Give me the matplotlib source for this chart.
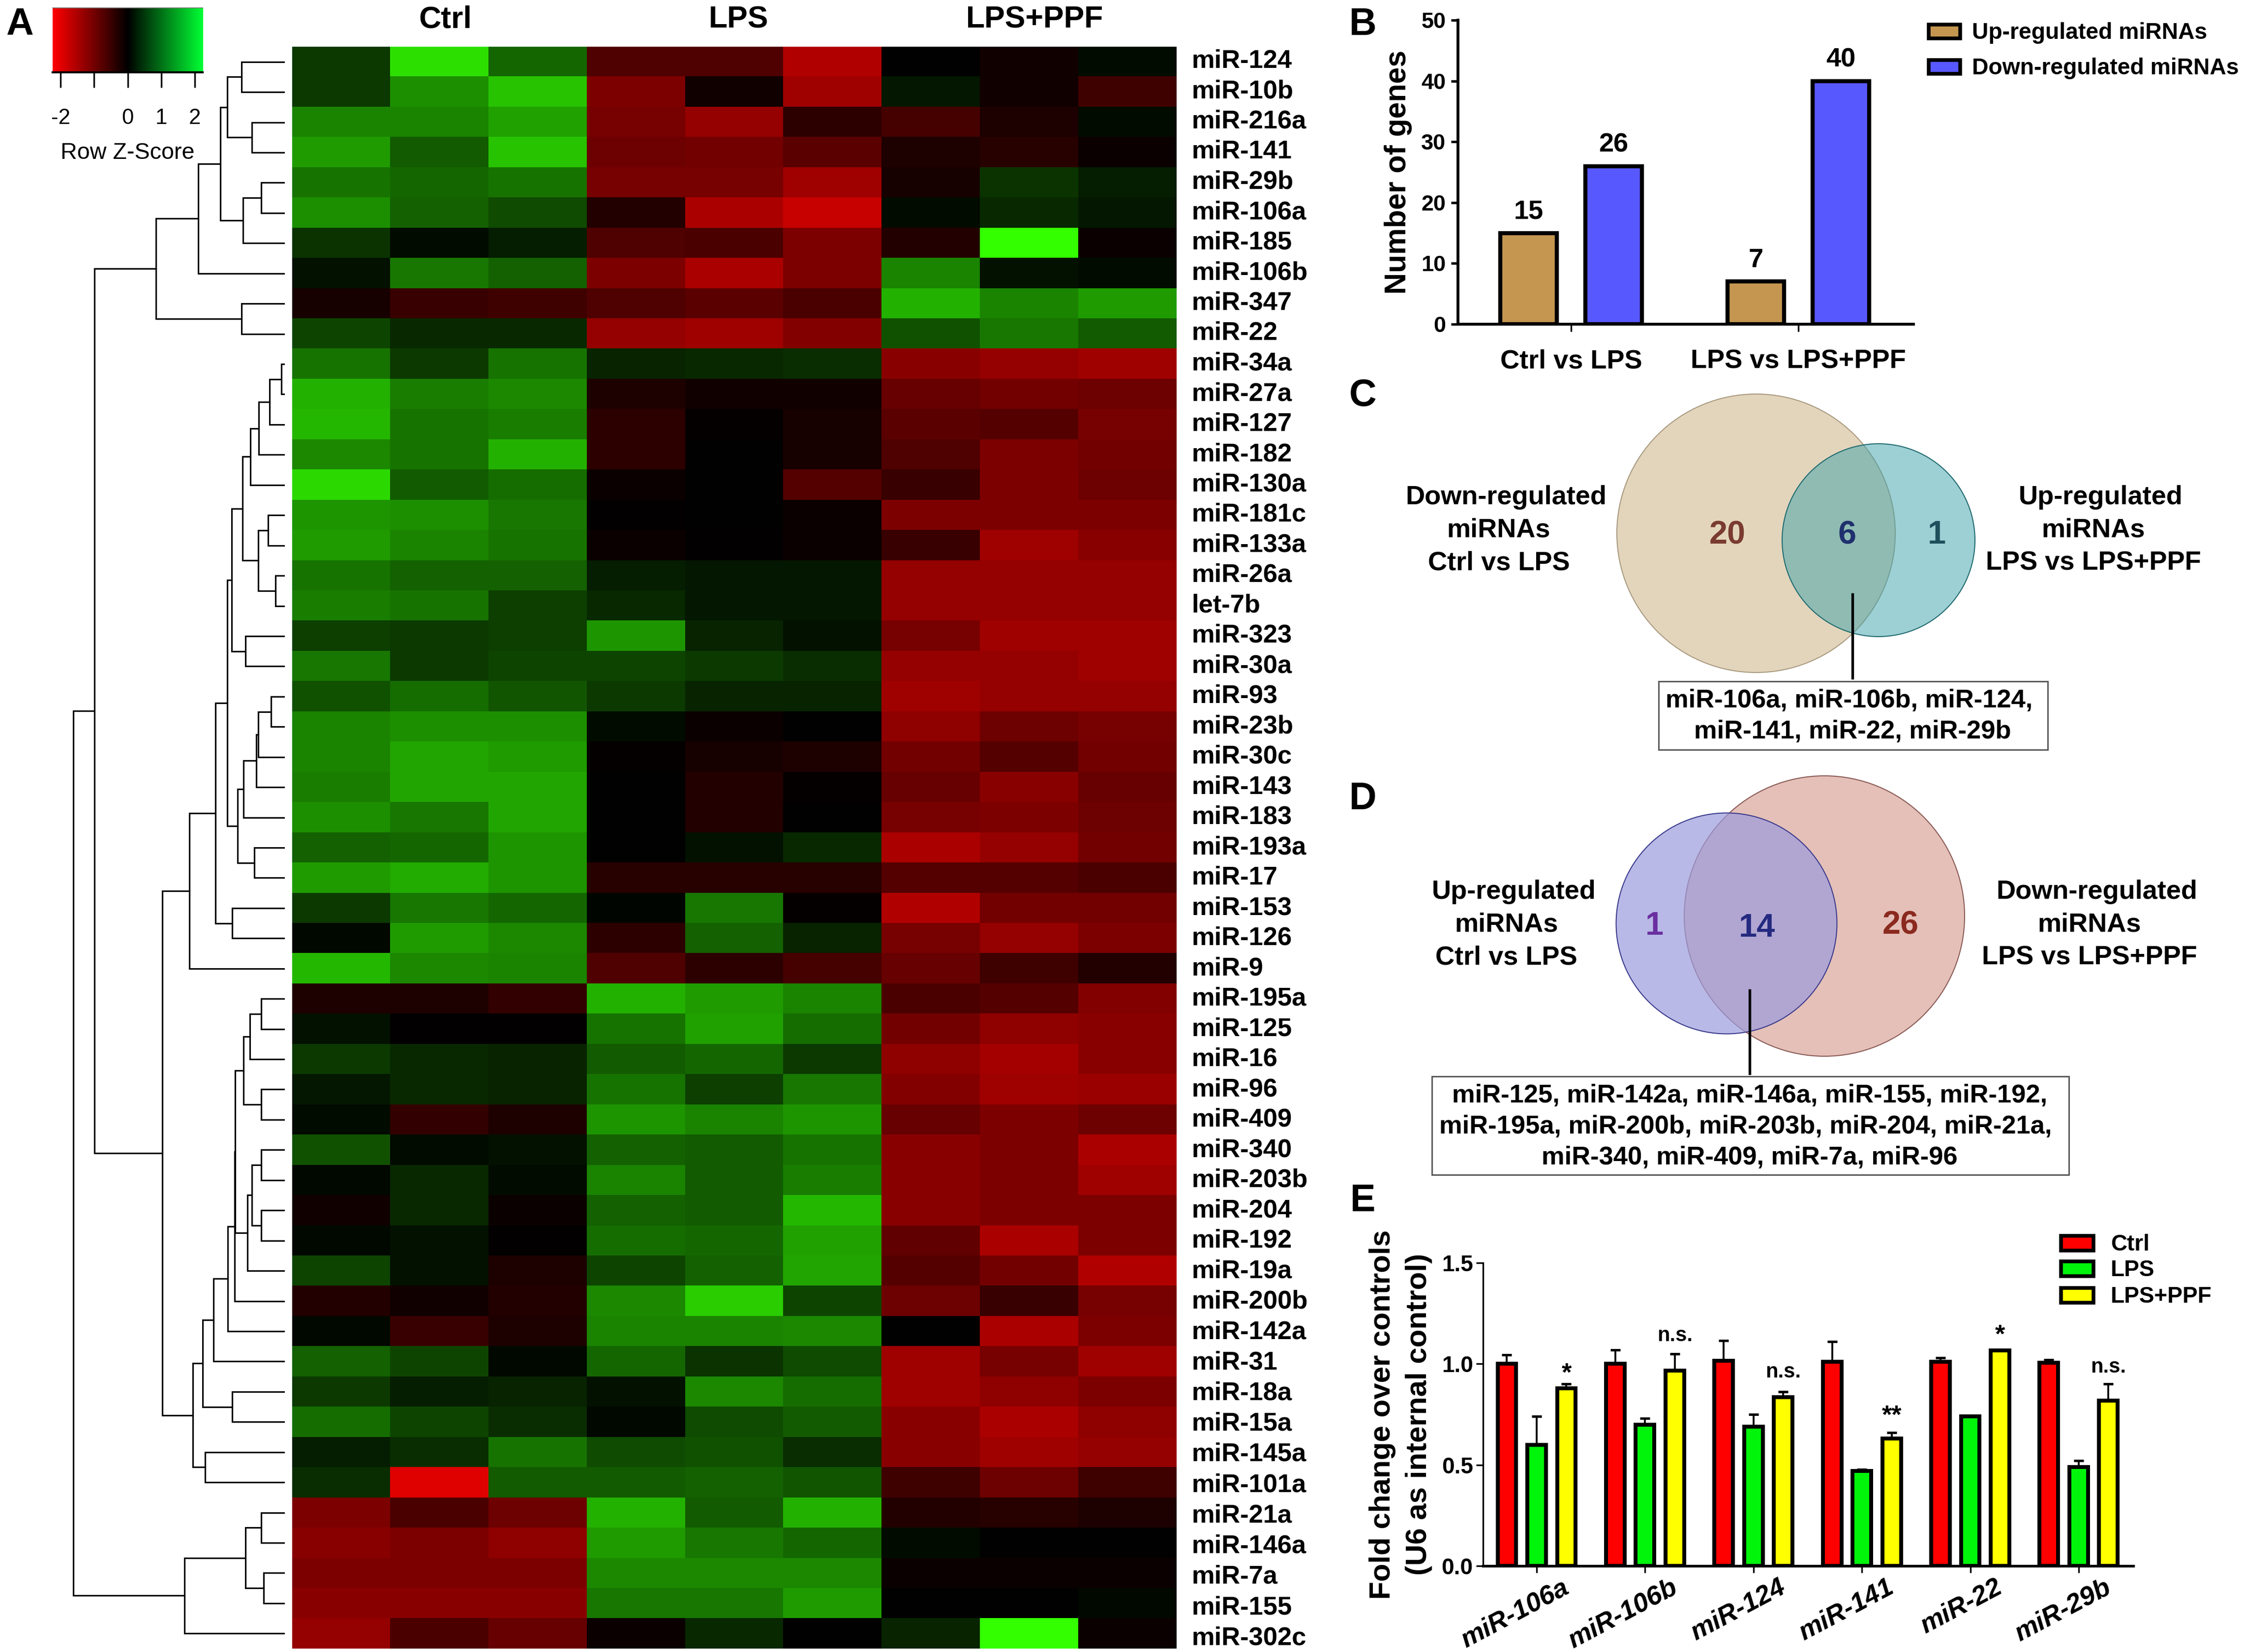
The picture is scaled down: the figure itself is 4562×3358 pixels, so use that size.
import numpy as np
import matplotlib
matplotlib.use("Agg")
import matplotlib.pyplot as plt
from matplotlib.colors import LinearSegmentedColormap
from matplotlib.patches import Circle, Rectangle
from matplotlib.transforms import ScaledTranslation

plt.rcParams["font.family"] = ["Liberation Sans", "DejaVu Sans"]
plt.rcParams["font.weight"] = "bold"

W, H = 4562, 3358
DPI = 300

# ---- panel A data ----
mirnas = ["miR-124", "miR-10b", "miR-216a", "miR-141", "miR-29b", "miR-106a", "miR-185", "miR-106b",
          "miR-347", "miR-22", "miR-34a", "miR-27a", "miR-127", "miR-182", "miR-130a", "miR-181c",
          "miR-133a", "miR-26a", "let-7b", "miR-323", "miR-30a", "miR-93", "miR-23b", "miR-30c",
          "miR-143", "miR-183", "miR-193a", "miR-17", "miR-153", "miR-126", "miR-9", "miR-195a",
          "miR-125", "miR-16", "miR-96", "miR-409", "miR-340", "miR-203b", "miR-204", "miR-192",
          "miR-19a", "miR-200b", "miR-142a", "miR-31", "miR-18a", "miR-15a", "miR-145a", "miR-101a",
          "miR-21a", "miR-146a", "miR-7a", "miR-155", "miR-302c"]
heat_groups = ["Ctrl", "LPS", "LPS+PPF"]

# row z-scores, three replicates per group
z_ctrl = [[0.5, 1.95, 0.9], [0.5, 1.25, 1.7], [1.15, 1.15, 1.4], [1.35, 0.8, 1.7], [1.0, 0.9, 1.0],
          [1.25, 0.85, 0.65], [0.45, 0.1, 0.25], [0.15, 1.05, 0.85], [-0.2, -0.5, -0.55], [0.6, 0.35, 0.35],
          [1.0, 0.5, 1.0], [1.55, 1.1, 1.2], [1.6, 1.0, 1.1], [1.2, 1.0, 1.55], [1.9, 0.8, 0.95],
          [1.3, 1.25, 1.05], [1.35, 1.15, 1.0], [1.0, 0.85, 0.85], [1.1, 1.0, 0.55], [0.55, 0.5, 0.55],
          [1.05, 0.5, 0.6], [0.7, 0.95, 0.75], [1.15, 1.25, 1.25], [1.15, 1.45, 1.35], [1.1, 1.45, 1.45],
          [1.25, 1.05, 1.45], [0.85, 0.9, 1.3], [1.35, 1.5, 1.3], [0.5, 1.05, 0.9], [0.08, 1.35, 1.2],
          [1.6, 1.2, 1.15], [-0.25, -0.25, -0.45], [0.15, -0.03, -0.03], [0.5, 0.35, 0.3], [0.2, 0.35, 0.3],
          [0.1, -0.45, -0.25], [0.7, 0.1, 0.15], [0.08, 0.35, 0.1], [-0.15, 0.35, -0.1], [0.08, 0.15, -0.03],
          [0.6, 0.15, -0.25], [-0.3, -0.15, -0.3], [0.08, -0.5, -0.25], [0.85, 0.6, 0.08], [0.5, 0.25, 0.3],
          [0.95, 0.6, 0.4], [0.25, 0.4, 1.0], [0.4, -1.95, 0.8], [-1.1, -0.65, -0.95], [-1.2, -1.1, -1.25],
          [-1.1, -1.1, -1.1], [-1.2, -1.2, -1.2], [-1.3, -0.65, -0.9]]
z_lps = [[-0.7, -0.7, -1.55], [-1.1, -0.15, -1.4], [-1.05, -1.3, -0.4], [-0.95, -1.0, -0.8], [-1.05, -1.05, -1.4],
         [-0.3, -1.5, -1.75], [-0.7, -0.65, -1.1], [-1.1, -1.5, -1.1], [-0.7, -0.8, -0.65], [-1.3, -1.4, -1.15],
         [0.3, 0.35, 0.4], [-0.25, -0.15, -0.15], [-0.4, -0.05, -0.2], [-0.4, 0.0, -0.2], [-0.1, 0.0, -0.75],
         [-0.03, 0.0, -0.1], [-0.1, -0.03, -0.1], [0.25, 0.2, 0.2], [0.35, 0.2, 0.2], [1.3, 0.3, 0.15],
         [0.6, 0.5, 0.4], [0.5, 0.3, 0.3], [0.1, -0.1, 0.0], [-0.05, -0.2, -0.25], [0.0, -0.3, -0.05],
         [0.0, -0.3, 0.0], [0.0, 0.15, 0.35], [-0.35, -0.35, -0.35], [0.05, 1.05, -0.05], [-0.4, 0.85, 0.3],
         [-0.7, -0.4, -0.6], [1.55, 1.35, 1.15], [1.0, 1.4, 0.95], [0.8, 0.9, 0.5], [1.0, 0.55, 1.05],
         [1.3, 1.15, 1.3], [0.85, 0.8, 1.0], [1.15, 0.8, 1.1], [0.85, 0.8, 1.6], [0.95, 0.9, 1.4],
         [0.6, 0.85, 1.45], [1.2, 1.8, 0.6], [1.15, 1.15, 1.2], [0.9, 0.45, 0.65], [0.15, 1.2, 0.95],
         [0.08, 0.65, 0.8], [0.65, 0.7, 0.4], [0.8, 0.85, 0.75], [1.55, 0.8, 1.55], [1.35, 1.05, 0.9],
         [1.2, 1.2, 1.2], [1.05, 1.05, 1.35], [-0.1, 0.35, 0.0]]
z_ppf = [[0.0, -0.15, 0.1], [0.2, -0.15, -0.55], [-0.6, -0.25, 0.1], [-0.25, -0.35, -0.1], [-0.2, 0.45, 0.25],
         [0.1, 0.35, 0.2], [-0.3, 2.24, -0.1], [1.15, 0.15, 0.1], [1.55, 1.15, 1.35], [0.7, 1.05, 0.8],
         [-1.2, -1.3, -1.4], [-0.9, -1.0, -0.95], [-0.8, -0.75, -1.05], [-0.7, -1.1, -1.0], [-0.5, -1.1, -0.95],
         [-1.1, -1.1, -1.1], [-0.5, -1.4, -1.2], [-1.3, -1.3, -1.3], [-1.3, -1.3, -1.3], [-1.05, -1.4, -1.4],
         [-1.3, -1.3, -1.4], [-1.4, -1.3, -1.3], [-1.25, -0.95, -1.05], [-1.0, -0.75, -1.0], [-0.9, -1.2, -0.9],
         [-1.05, -1.1, -0.95], [-1.5, -1.3, -1.0], [-0.75, -0.75, -0.65], [-1.55, -1.0, -1.0], [-1.05, -1.3, -1.1],
         [-0.9, -0.55, -0.3], [-0.65, -0.75, -1.15], [-1.0, -1.25, -1.2], [-1.25, -1.45, -1.2], [-1.15, -1.4, -1.35],
         [-0.9, -1.1, -0.95], [-1.2, -1.1, -1.5], [-1.2, -1.1, -1.4], [-1.2, -1.1, -1.1], [-0.85, -1.5, -1.1],
         [-0.75, -1.0, -1.55], [-0.95, -0.5, -1.05], [0.0, -1.5, -1.1], [-1.4, -1.05, -1.4], [-1.4, -1.25, -1.1],
         [-1.2, -1.5, -1.25], [-1.2, -1.4, -1.3], [-0.55, -0.95, -0.55], [-0.3, -0.35, -0.25], [0.1, 0.0, 0.0],
         [-0.1, -0.1, -0.1], [0.0, 0.0, 0.08], [0.3, 2.24, -0.1]]

# row dendrogram: (height, left, right), leaves are row numbers
tree_top = (6.07, (4.07, (3.02, (2.69, (2.02, 0, 1), (1.53, 2, 3)), (1.94, (1.07, 4, 5), 6)), 7), (2.02, 8, 9))
tree_mid_a = (1.96, (1.59, (1.18, (0.68, (0.12, 10, 11), 12), 13), 14), (1.22, (0.74, 15, 16), (0.39, 17, 18)))
tree_mid_b = (2.19, (1.92, (1.3, (1.22, (0.6, 21, 22), 23), 24), 25), (1.41, 26, 27))
tree_mid = (4.48, (3.24, (2.69, (2.48, tree_mid_a, (1.82, 19, 20)), tree_mid_b), (2.46, 28, 29)), 30)
tree_low_a = (2.31, (1.92, (1.61, (1.07, 31, 32), 33), (1.07, 34, 35)),
              (1.72, (1.53, (1.07, 36, 37), (1.07, 38, 39)), 40))
tree_low = (4.32, (3.86, (3.33, (2.67, (2.34, tree_low_a, 41), 42), 43), (2.46, 44, 45)), (3.74, 46, 47))
tree_bottom = (4.73, (1.82, (1.07, 48, 49), (0.95, 50, 51)), 52)
row_tree = (10.0, (8.99, tree_top, (5.78, tree_mid, tree_low)), tree_bottom)

# ---- panel B data ----
b_groups = ["Ctrl vs LPS", "LPS vs LPS+PPF"]
b_up = [15, 7]
b_down = [26, 40]

# ---- panel C / D data ----
c_counts = [20, 6, 1]
c_mirnas = ["miR-106a, miR-106b, miR-124,", "miR-141, miR-22, miR-29b"]
d_counts = [1, 14, 26]
d_mirnas = ["miR-125, miR-142a, miR-146a, miR-155, miR-192,",
            "miR-195a, miR-200b, miR-203b, miR-204, miR-21a,",
            "miR-340, miR-409, miR-7a, miR-96"]

# ---- panel E data ----
e_genes = ["miR-106a", "miR-106b", "miR-124", "miR-141", "miR-22", "miR-29b"]
e_ctrl = [1.0, 1.0, 1.015, 1.01, 1.01, 1.005]
e_lps = [0.6, 0.70, 0.69, 0.47, 0.74, 0.49]
e_ppf = [0.88, 0.967, 0.836, 0.63, 1.067, 0.818]
e_ctrl_err = [0.044, 0.07, 0.10, 0.10, 0.02, 0.015]
e_lps_err = [0.14, 0.03, 0.06, 0.007, 0.003, 0.03]
e_ppf_err = [0.02, 0.083, 0.026, 0.03, 0.004, 0.082]
e_sig = ["*", "n.s.", "n.s.", "**", "*", "n.s."]
e_sig_y = [0.95, 1.14, 0.96, 0.74, 1.14, 0.985]

fig = plt.figure(figsize=((W + 0.01) / DPI, (H + 0.01) / DPI), dpi=DPI, facecolor="white")


def px_axes(x0, y0, x1, y1, **kw):
    # axes from pixel box of the picture, y counted from the top
    return fig.add_axes([x0 / W, 1 - y1 / H, (x1 - x0) / W, (y1 - y0) / H], **kw)


# full page layer for letters, venns and free text, on top of the panels
canvas = px_axes(0, 0, W, H)
canvas.set_xlim(0, W)
canvas.set_ylim(H, 0)
canvas.axis("off")
canvas.set_zorder(10)


def put(x, y, s, size=13, **kw):
    kw.setdefault("ha", "center")
    kw.setdefault("va", "center")
    canvas.text(x, y, s, fontsize=size, fontweight="bold", **kw)


for letter, ly in zip("ABCDE", [50, 50, 804, 1624, 2441]):
    put(40 if letter == "A" else 2771, ly, letter, size=18.5)

# ---- A: heatmap ----
heat_top, heat_bottom = 95, 3351
heat_left, heat_right = 594, 2391
heat_cmap = LinearSegmentedColormap.from_list("heat", ["#FF0000", "#000000", "#33FF00"])
bar_cmap = LinearSegmentedColormap.from_list("bar", ["#FF0000", "#000000", "#00FF33"])
zmax = 2.24

matrix = np.hstack([np.array(z_ctrl), np.array(z_lps), np.array(z_ppf)])
ax_heat = px_axes(heat_left, heat_top, heat_right, heat_bottom)
ax_heat.imshow(matrix, cmap=heat_cmap, vmin=-zmax, vmax=zmax, aspect="auto", interpolation="nearest")
ax_heat.set_xticks([])
ax_heat.yaxis.tick_right()
ax_heat.set_yticks(range(len(mirnas)))
ax_heat.set_yticklabels(mirnas, fontsize=12.6, fontweight="bold")
ax_heat.tick_params(axis="y", length=0, pad=7.5)
# the row labels in the figure drift a little against the rows
for i, lab in enumerate(ax_heat.get_yticklabels()):
    dy = np.interp(i, [0, 40, 47, 52], [7, 5, 0, -4])
    lab.set_transform(lab.get_transform() + ScaledTranslation(0, dy / DPI, fig.dpi_scale_trans))
for s in ax_heat.spines.values():
    s.set_visible(False)
for name, cx in zip(heat_groups, [905, 1502, 2104]):
    put(cx, 40, name, size=15)

# colour key
ax_key = px_axes(107, 16, 412, 147)
ax_key.imshow(np.linspace(-zmax, zmax, 256).reshape(1, -1), cmap=bar_cmap, vmin=-zmax, vmax=zmax,
              aspect="auto", extent=[-zmax, zmax, 0, 1])
ax_key.set_yticks([])
ax_key.set_xticks([-2, -1, 0, 1, 2])
ax_key.set_xticklabels(["-2", "", "0", "1", "2"], fontsize=10.5, fontweight="normal")
ax_key.tick_params(axis="x", length=7.4, width=0.8, pad=10)
for side in ["left", "right"]:
    ax_key.spines[side].set_visible(False)
ax_key.spines["top"].set_linewidth(0.4)
ax_key.spines["top"].set_color("#777777")
ax_key.spines["bottom"].set_linewidth(1.0)
canvas.text(259, 311, "Row Z-Score", fontsize=11.2, fontweight="normal", ha="center", va="center")

# dendrogram
ax_den = px_axes(149, heat_top, 577, heat_bottom)
ax_den.set_xlim(10, 0)
ax_den.set_ylim(len(mirnas) - 0.5, -0.5)
ax_den.axis("off")


def draw_node(node):
    if not isinstance(node, tuple):
        return 0.0, float(node)
    h, left, right = node
    h1, y1 = draw_node(left)
    h2, y2 = draw_node(right)
    ax_den.plot([h1, h, h, h2], [y1, y1, y2, y2], color="black", lw=0.75, solid_joinstyle="miter", clip_on=False)
    return h, (y1 + y2) / 2


draw_node(row_tree)

# ---- B: bar chart ----
ax_b = px_axes(2964, 41, 3890, 659)
xb = np.arange(len(b_groups))
bw_b = 0.249
ax_b.bar(xb - 0.187, b_up, bw_b, color="#C49650", edgecolor="black", linewidth=2)
ax_b.bar(xb + 0.187, b_down, bw_b, color="#5858FF", edgecolor="black", linewidth=2)
ax_b.set_xlim(-0.498, 1.506)
ax_b.set_ylim(0, 50)
ax_b.set_yticks([0, 10, 20, 30, 40, 50])
ax_b.set_xticks(xb)
ax_b.set_xticklabels(b_groups, fontsize=13, fontweight="bold")
ax_b.tick_params(axis="y", labelsize=10.8, length=3.4, width=1.2, pad=2.5)
ax_b.tick_params(axis="x", length=3.6, width=0.8, pad=8.6)
for side in ["top", "right"]:
    ax_b.spines[side].set_visible(False)
for side in ["left", "bottom"]:
    ax_b.spines[side].set_linewidth(1.4)
for xs, vals in [(xb - 0.187, b_up), (xb + 0.187, b_down)]:
    for x, v in zip(xs, vals):
        ax_b.annotate(str(v), (x, v), xytext=(0, 10.4), textcoords="offset points",
                      ha="center", va="center", fontsize=13, fontweight="bold")
put(2842, 350, "Number of genes", size=14.6, rotation=90)


def legend_row(x, y, w, h, color, label, tx, size):
    canvas.add_patch(Rectangle((x, y), w, h, facecolor=color, edgecolor="black", linewidth=1.8))
    put(tx, y + h / 2 + 3, label, size=size, ha="left")


legend_row(3921, 50, 64, 28, "#C49650", "Up-regulated miRNAs", 4009, 11.1)
legend_row(3921, 122, 64, 28, "#5858FF", "Down-regulated miRNAs", 4009, 11.1)

# ---- C: venn ----
canvas.add_patch(Circle((3570, 1084), 283, facecolor="#E3D5BC", edgecolor="#A89A80", linewidth=0.5))
canvas.add_patch(Circle((3819, 1098), 196, facecolor=(61 / 255, 163 / 255, 171 / 255, 0.5),
                        edgecolor="#1F6A70", linewidth=0.5))
for x, n, col in zip([3512, 3755, 3937], c_counts, ["#7A3B30", "#20306E", "#1D4F5C"]):
    put(x, 1088, str(n), size=16, color=col)
for x, y, s in [(3062, 1011, "Down-regulated"), (3047, 1077, "miRNAs"), (3047, 1144, "Ctrl vs LPS"),
                (4271, 1011, "Up-regulated"), (4256, 1077, "miRNAs"), (4256, 1144, "LPS vs LPS+PPF")]:
    put(x, y, s, size=13)
canvas.plot([3766, 3766], [1208, 1378], color="black", lw=1.3)
canvas.add_patch(Rectangle((3372, 1385), 791, 139, facecolor="white", edgecolor="#555555", linewidth=0.7))
for x, y, s in zip([3759, 3766], [1424, 1487], c_mirnas):
    put(x, y, s, size=12.6)

# ---- D: venn ----
canvas.add_patch(Circle((3709, 1862), 285, facecolor="#E4C0B8", edgecolor="#8A5A55", linewidth=0.5))
canvas.add_patch(Circle((3510, 1877), 224.5, facecolor=(156 / 255, 156 / 255, 222 / 255, 0.7),
                        edgecolor="#3A3A8C", linewidth=0.5))
for x, y, n, col in zip([3363, 3572, 3864], [1883, 1887, 1881], d_counts, ["#6A2FA0", "#252A80", "#8B2A1F"]):
    put(x, y, str(n), size=16, color=col)
for x, y, s in [(3078, 1813, "Up-regulated"), (3063, 1879, "miRNAs"), (3062, 1946, "Ctrl vs LPS"),
                (4263, 1813, "Down-regulated"), (4248, 1879, "miRNAs"), (4248, 1946, "LPS vs LPS+PPF")]:
    put(x, y, s, size=13)
canvas.plot([3557, 3557], [2013, 2182], color="black", lw=1.3)
canvas.add_patch(Rectangle((2911, 2188), 1295, 200, facecolor="white", edgecolor="#555555", linewidth=0.7))
for x, y, s in zip([3557, 3549, 3557], [2227, 2290, 2353], d_mirnas):
    put(x, y, s, size=12.6)

# ---- E: bars with error bars ----
ax_e = px_axes(3015, 2567, 4337, 3183)
xe = np.arange(len(e_genes))
off = 0.2745
bw_e = 0.172
series = [(e_ctrl, e_ctrl_err, "#FF0000", -off), (e_lps, e_lps_err, "#00F50A", 0), (e_ppf, e_ppf_err, "#FFFF00", off)]
for vals, errs, col, dx in series:
    ax_e.bar(xe + dx, vals, bw_e, color=col, edgecolor="black", linewidth=1.9)
    ax_e.errorbar(xe + dx, vals, yerr=[np.zeros(len(errs)), errs], fmt="none", ecolor="black",
                  elinewidth=0.9, capsize=2.4, capthick=1.2)
ax_e.set_xlim(-0.4945, 5.504)
ax_e.set_ylim(0, 1.5)
ax_e.set_yticks([0, 0.5, 1.0, 1.5])
ax_e.set_yticklabels(["0.0", "0.5", "1.0", "1.5"])
ax_e.set_xticks(xe)
ax_e.tick_params(axis="y", labelsize=11, length=3.4, width=0.8, pad=1.5)
ax_e.tick_params(axis="x", length=3.4, width=0.8)
ax_e.set_xticklabels(e_genes, fontsize=13, fontweight="bold", fontstyle="italic", rotation=28,
                     ha="right", rotation_mode="anchor")
shift = ScaledTranslation(50 / DPI, 10 / DPI, fig.dpi_scale_trans)
for lab in ax_e.get_xticklabels():
    lab.set_transform(lab.get_transform() + shift)
for side in ["top", "right"]:
    ax_e.spines[side].set_visible(False)
ax_e.spines["left"].set_linewidth(0.8)
ax_e.spines["bottom"].set_linewidth(1.3)
for x, y, s in zip(xe + off, e_sig_y, e_sig):
    ax_e.text(x, y, s, ha="center", va="center", fontsize=12.5 if "*" in s else 10, fontweight="bold")
put(2810, 2875, "Fold change over controls", size=14.4, rotation=90)
put(2884, 2875, "(U6 as internal control)", size=14.4, rotation=90)

for y, col, name in zip([2512, 2564, 2618], ["#FF0000", "#00F50A", "#FFFF00"], ["Ctrl", "LPS", "LPS+PPF"]):
    legend_row(4190, y, 66, 30, col, name, 4291, 11)

fig.savefig("out.png", dpi=DPI)
